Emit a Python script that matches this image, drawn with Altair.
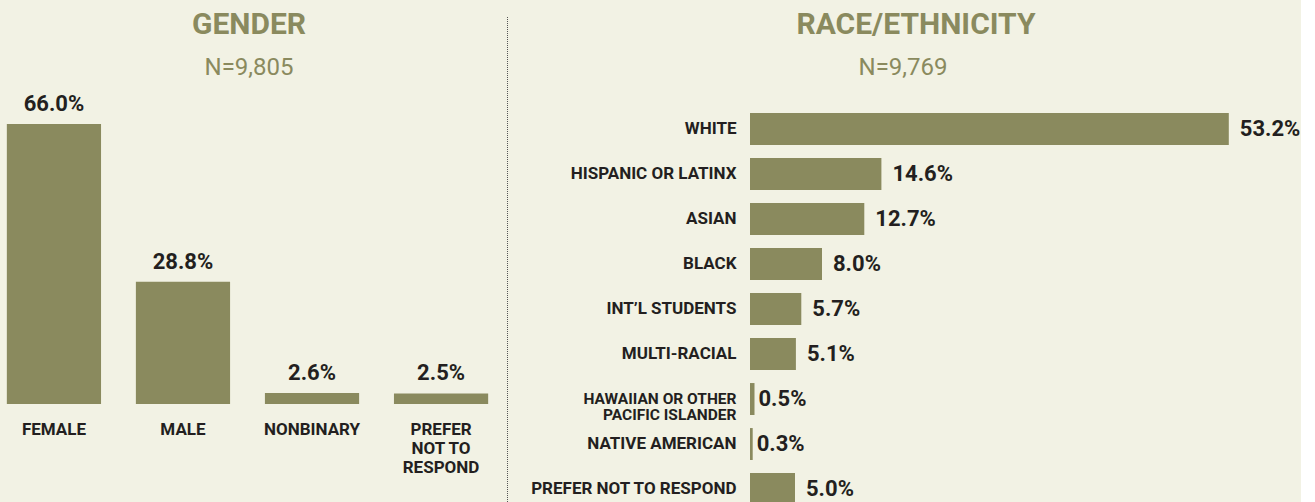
import altair as alt
import pandas as pd

BG = "#f2f2e4"
OLIVE = "#8a8a5e"
DARK = "#231f20"

gender_cats = ["FEMALE", "MALE", "NONBINARY", "PREFER NOT TO RESPOND"]
gender_vals = [66.0, 28.8, 2.6, 2.5]

race_cats = ["WHITE", "HISPANIC OR LATINX", "ASIAN", "BLACK", "INT\u2019L STUDENTS",
             "MULTI-RACIAL", "HAWAIIAN OR OTHER PACIFIC ISLANDER", "NATIVE AMERICAN",
             "PREFER NOT TO RESPOND"]
race_vals = [53.2, 14.6, 12.7, 8.0, 5.7, 5.1, 0.5, 0.3, 5.0]

gdf = pd.DataFrame({"cat": gender_cats, "val": gender_vals})
gdf["lbl"] = gdf["val"].map(lambda v: f"{v:.1f}%")
rdf = pd.DataFrame({"cat": race_cats, "val": race_vals})
rdf["lbl"] = rdf["val"].map(lambda v: f"{v:.1f}%")

FONT = "Roboto"

# ---------- Left: Gender ----------
gx = alt.X("cat:N", sort=gender_cats,
           scale=alt.Scale(paddingInner=0.27, paddingOuter=0.053),
           axis=alt.Axis(title=None, domain=False, ticks=False, labelAngle=0,
                         labelPadding=17, labelBaseline="top", labelFont=FONT,
                         labelFontSize=17, labelFontWeight="bold", labelColor=DARK,
                         labelLineHeight=19,
                         labelExpr="datum.label == 'PREFER NOT TO RESPOND' ? ['PREFER','NOT TO','RESPOND'] : datum.label"))
gy = alt.Y("val:Q", scale=alt.Scale(domain=[0, 70]), axis=None)

gbase = alt.Chart(gdf)
gbars = gbase.mark_bar(color=OLIVE).encode(x=gx, y=gy)
glabels = gbase.mark_text(font=FONT, fontSize=22, fontWeight="bold", color=DARK,
                          baseline="bottom", dy=-8).encode(x=gx, y=gy, text="lbl:N")

gtitle = alt.Chart(pd.DataFrame({"t": ["GENDER"]})).mark_text(
    font=FONT, fontSize=30, fontWeight="bold", color=OLIVE, baseline="alphabetic"
).encode(text="t:N", x=alt.value(249), y=alt.value(34 - 107))
gsub = alt.Chart(pd.DataFrame({"t": ["N=9,805"]})).mark_text(
    font=FONT, fontSize=24, color=OLIVE, baseline="alphabetic"
).encode(text="t:N", x=alt.value(249), y=alt.value(75 - 107))
divider = alt.Chart(pd.DataFrame({"d": [0]})).mark_rule(
    color="#555555", strokeWidth=1, strokeDash=[1, 1]
).encode(x=alt.value(507.5), y=alt.value(17 - 107), y2=alt.value(395))

left = alt.layer(gbars, glabels, gtitle, gsub, divider).properties(width=495, height=297)

# ---------- Right: Race ----------
ry = alt.Y("cat:N", sort=race_cats,
           scale=alt.Scale(paddingInner=0.29, paddingOuter=0.133),
           axis=alt.Axis(title=None, domain=False, ticks=False, labelPadding=14,
                         labelFont=FONT,
                         labelFontSize={"condition": {"test": "datum.label == 'HAWAIIAN OR OTHER PACIFIC ISLANDER'", "value": 15.5}, "value": 17},
                         labelFontWeight="bold",
                         labelColor=DARK, labelLineHeight=16, labelLimit=400,
                         labelExpr="datum.label == 'HAWAIIAN OR OTHER PACIFIC ISLANDER' ? ['HAWAIIAN OR OTHER','PACIFIC ISLANDER'] : datum.label"))
rx = alt.X("val:Q", scale=alt.Scale(domain=[0, 60]), axis=None)

rbase = alt.Chart(rdf)
rbars = rbase.mark_bar(color=OLIVE).encode(x=rx, y=ry)
rlabels_big = rbase.transform_filter("datum.val >= 1").mark_text(
    font=FONT, fontSize=22, fontWeight="bold", color=DARK, align="left", dx=11
).encode(x=rx, y=ry, text="lbl:N")
rlabels_small = rbase.transform_filter("datum.val < 1").mark_text(
    font=FONT, fontSize=22, fontWeight="bold", color=DARK, align="left", dx=4
).encode(x=rx, y=ry, text="lbl:N")

rtitle = alt.Chart(pd.DataFrame({"t": ["RACE/ETHNICITY"]})).mark_text(
    font=FONT, fontSize=30, fontWeight="bold", color=OLIVE, baseline="alphabetic"
).encode(text="t:N", x=alt.value(916 - 750), y=alt.value(34 - 107))
rsub = alt.Chart(pd.DataFrame({"t": ["N=9,769"]})).mark_text(
    font=FONT, fontSize=24, color=OLIVE, baseline="alphabetic"
).encode(text="t:N", x=alt.value(903 - 750), y=alt.value(75 - 107))

right = alt.layer(rbars, rlabels_big, rlabels_small, rtitle, rsub).properties(width=540, height=404)

chart = alt.hconcat(left, right, spacing=255, bounds="flush").properties(
    padding={"left": 0, "top": 10, "right": 0, "bottom": 0},
    background=BG,
).configure_view(stroke=None)

chart.save("out.html", embed_options={"renderer": "svg", "actions": False})
